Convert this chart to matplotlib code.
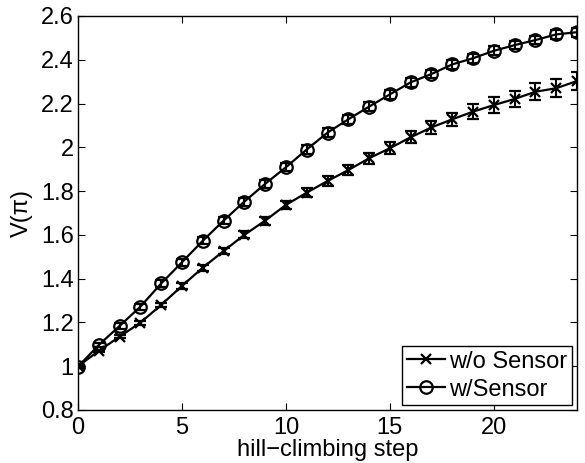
import matplotlib
matplotlib.use("Agg")
import matplotlib.pyplot as plt

plt.rcParams['font.family'] = ['Liberation Sans', 'DejaVu Sans']

steps = list(range(25))
wo_sensor = [1.0, 1.070, 1.135, 1.199, 1.280, 1.367, 1.450, 1.526, 1.600, 1.665,
             1.737, 1.793, 1.846, 1.896, 1.950, 1.996, 2.046, 2.091, 2.128, 2.163,
             2.193, 2.221, 2.254, 2.270, 2.303]
wo_err = [0.004, 0.006, 0.008, 0.009, 0.010, 0.012, 0.013, 0.015, 0.016, 0.018,
          0.019, 0.021, 0.022, 0.024, 0.025, 0.027, 0.028, 0.030, 0.031, 0.033,
          0.035, 0.037, 0.039, 0.040, 0.042]
w_sensor = [0.998, 1.097, 1.184, 1.272, 1.378, 1.475, 1.573, 1.665, 1.752, 1.833,
            1.909, 1.990, 2.067, 2.128, 2.186, 2.242, 2.297, 2.335, 2.379, 2.407,
            2.441, 2.467, 2.490, 2.516, 2.526]
w_err = [0.008, 0.010, 0.012, 0.013, 0.014, 0.015, 0.016, 0.017, 0.018, 0.018,
         0.019, 0.019, 0.020, 0.020, 0.020, 0.020, 0.020, 0.020, 0.020, 0.020,
         0.020, 0.020, 0.020, 0.020, 0.020]

labels = ['w/o Sensor', 'w/Sensor']
xticks = [0, 5, 10, 15, 20]
yticks = [0.8, 1.0, 1.2, 1.4, 1.6, 1.8, 2.0, 2.2, 2.4, 2.6]
ytick_labels = ['0.8', '1', '1.2', '1.4', '1.6', '1.8', '2', '2.2', '2.4', '2.6']

fs = 17

fig = plt.figure(figsize=(5.85, 4.63), dpi=100)
ax = fig.add_axes([78/585, 53/463, 499/585, 394/463])

c1 = ax.errorbar(steps, wo_sensor, yerr=wo_err, color='black', marker='x',
                 markersize=7.5, markeredgewidth=1.6, linewidth=1.6,
                 elinewidth=1.5, capsize=4.5, capthick=1.5, label=labels[0])
c2 = ax.errorbar(steps, w_sensor, yerr=w_err, color='black', marker='o',
                 markersize=9, markerfacecolor='none', markeredgewidth=1.6,
                 linewidth=1.6, elinewidth=1.5, capsize=4, capthick=1.5,
                 label=labels[1])

ax.set_xlim(0, 24)
ax.set_ylim(0.8, 2.6)
ax.set_xticks(xticks)
ax.set_xticklabels([str(t) for t in xticks])
ax.set_yticks(yticks)
ax.set_yticklabels(ytick_labels)
ax.tick_params(direction='in', length=5, width=0.8, top=True, right=True,
               labelsize=fs)
ax.tick_params(axis='x', pad=5)
ax.tick_params(axis='y', pad=3)
for s in ax.spines.values():
    s.set_linewidth(1.0)

ax.set_xlabel('hill\u2212climbing step', fontsize=fs, labelpad=0)
ax.set_ylabel('V(\u03c0)', fontsize=fs, labelpad=6)

leg = ax.legend(handles=[c1[0], c2[0]], labels=labels, loc='lower right',
                fontsize=fs, frameon=True, fancybox=False, edgecolor='black',
                framealpha=1, borderaxespad=0.2, borderpad=0.2,
                labelspacing=0.25, handlelength=1.6, handletextpad=0.2)
leg.get_frame().set_linewidth(1.0)

fig.savefig('out.png', dpi=100)
